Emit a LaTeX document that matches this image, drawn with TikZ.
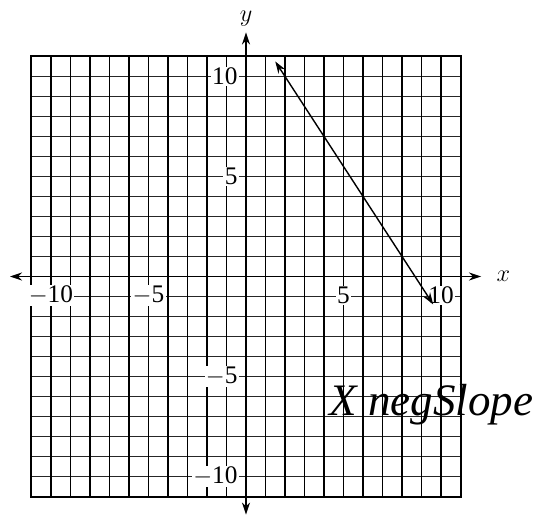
\documentclass[tikz,border=0pt]{standalone}
\usepackage{fontspec}
\setmainfont{Liberation Serif}
\usetikzlibrary{arrows.meta}
\tikzset{vline/.style={line width=1pt,black},
  hline/.style={line width=0.7pt,black!85},
  axis/.style={{Stealth[length=3mm,width=2mm]}-{Stealth[length=3mm,width=2mm]},line width=1.1pt},
  tick/.style={fill=white,inner sep=1pt,font=\fontsize{18}{18}\selectfont},
  note/.style={font=\fontsize{32}{34}\selectfont\itshape}}
\begin{document}
\begin{tikzpicture}[x=0.4875cm,y=0.5cm]
\useasboundingbox (-246*0.025cm,-244.5*0.025cm) rectangle (292*0.025cm,276.5*0.025cm);
% grid
\foreach \i in {-11,...,11} \draw[hline] (-11,\i) -- (11,\i);
\foreach \i in {-11,...,11} \draw[vline] (\i,-11) -- (\i,11);
\draw[line width=1.4pt] (-11,-11) rectangle (11,11);
% axes
\draw[axis] (-12.1,0) -- (12.05,0);
\draw[axis] (0,-11.9) -- (0,12.2);
\node[inner sep=0pt] (xl) at (13.2,0) {\fontsize{19}{19}\selectfont$x$};
\node[inner sep=0pt] (yl) at (0,12.9) {\fontsize{19}{19}\selectfont$y$};
% tick labels
\foreach \v/\t in {-10/{$-$10},-5/{$-$5},5/5,10/10}
  \node[tick] (xt\v) at (\v,-0.95) {\t};
\foreach \v/\t in {-10/{$-$10},-5/{$-$5},5/5,10/10}
  \node[tick,anchor=east] (yt\v) at (-0.35,\v) {\t};
% the line
\coordinate (p) at (1.5,10.75);
\coordinate (q) at (9.6,-1.4);
\draw[axis,line width=1pt] (p) -- (q);
\node[note] (lab) at (9.5,-6.4) {X negSlope};
\end{tikzpicture}
\end{document}
